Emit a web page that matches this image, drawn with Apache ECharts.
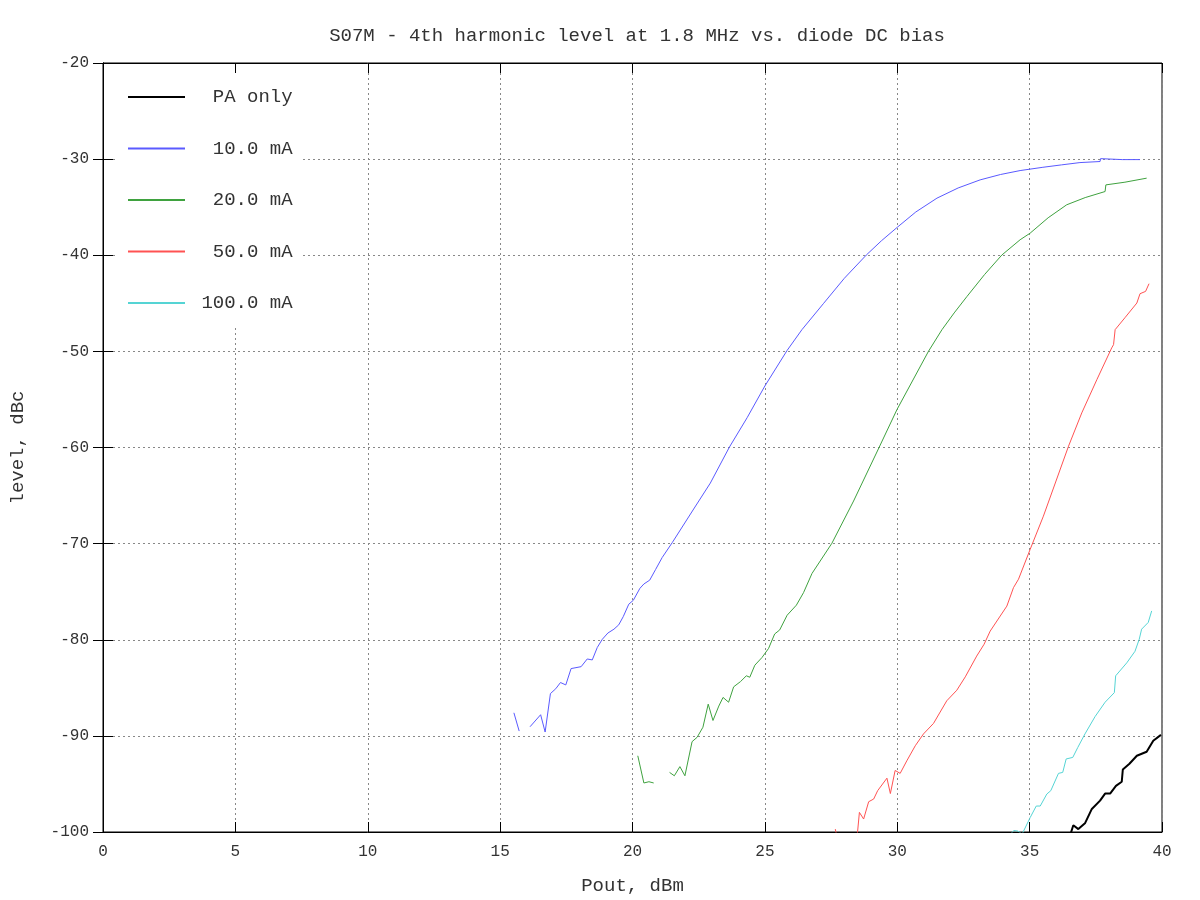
<!DOCTYPE html>
<html>
<head>
<meta charset="utf-8">
<script src="https://cdn.jsdelivr.net/npm/echarts@6/dist/echarts.min.js"></script>
<style>html,body{margin:0;padding:0;background:#fff}#c{width:1200px;height:900px}</style>
</head>
<body>
<div id="c"></div>
<script>
// ---- data ----
const seriesNames = ['PA only', '10.0 mA', '20.0 mA', '50.0 mA', '100.0 mA'];
const xTicks = [0, 5, 10, 15, 20, 25, 30, 35, 40];
const yTicks = [-100, -90, -80, -70, -60, -50, -40, -30, -20];

const paX = [36.5, 36.65, 36.84, 37.09, 37.35, 37.66, 37.85, 38.04, 38.26, 38.48, 38.52, 38.77, 39.05, 39.42, 39.67, 39.96];
const paY = [-100.6, -99.3, -99.7, -99.1, -97.6, -96.74, -96.0, -96.0, -95.2, -94.77, -93.5, -92.9, -92.07, -91.65, -90.5, -89.9];

const mA10X = [15.52, 15.72, 15.9, 16.13, 16.53, 16.7, 16.9, 17.1, 17.28, 17.48, 17.68, 18.06, 18.29, 18.48, 18.67, 18.86, 19.07, 19.3, 19.48, 19.65, 19.86, 20.03, 20.28, 20.43, 20.65, 20.87, 21.12, 21.5, 22.31, 22.94, 23.66, 24.33, 25.0, 25.84, 26.4, 27.22, 28.0, 28.83, 29.4, 30.01, 30.7, 31.5, 32.3, 33.13, 33.9, 34.64, 35.5, 36.2, 36.9, 37.66, 37.68, 38.5, 39.17];
const mA10Y = [-87.6, -89.5, null, -89.05, -87.8, -89.6, -85.6, -85.1, -84.45, -84.7, -83.0, -82.8, -82.0, -82.1, -80.8, -79.95, -79.3, -78.9, -78.45, -77.6, -76.3, -75.9, -74.65, -74.2, -73.8, -72.7, -71.45, -69.9, -66.4, -63.7, -59.96, -56.9, -53.6, -49.9, -47.74, -45.0, -42.4, -39.98, -38.5, -37.07, -35.5, -34.06, -33.0, -32.16, -31.6, -31.19, -30.85, -30.6, -30.36, -30.25, -29.95, -30.05, -30.05];

const mA20X = [20.2, 20.43, 20.62, 20.8, 21.1, 21.4, 21.58, 21.79, 21.98, 22.25, 22.44, 22.66, 22.86, 23.04, 23.26, 23.42, 23.63, 23.82, 24.08, 24.3, 24.43, 24.62, 24.89, 25.14, 25.37, 25.56, 25.84, 26.19, 26.46, 26.78, 27.53, 28.35, 29.32, 29.99, 31.18, 31.69, 32.15, 32.63, 33.3, 33.95, 34.64, 35.02, 35.7, 36.4, 37.1, 37.85, 37.88, 38.6, 39.42];
const mA20Y = [-92.07, -94.9, -94.77, -94.9, null, -93.8, -94.15, -93.2, -94.15, -90.6, -90.15, -89.1, -86.7, -88.4, -86.9, -86.0, -86.5, -84.9, -84.35, -83.75, -83.9, -82.65, -81.85, -80.9, -79.4, -78.98, -77.45, -76.4, -75.1, -73.1, -69.97, -65.57, -59.96, -56.05, -49.99, -47.74, -46.0, -44.3, -42.0, -39.98, -38.39, -37.7, -36.1, -34.75, -34.0, -33.37, -32.68, -32.4, -31.98];

const mA50X = [27.66, 27.8, 28.1, 28.45, 28.57, 28.73, 28.92, 29.11, 29.26, 29.61, 29.74, 29.92, 30.11, 30.36, 30.68, 30.99, 31.37, 31.87, 32.25, 32.57, 33.0, 33.28, 33.51, 34.14, 34.39, 34.58, 35.02, 35.52, 36.47, 36.97, 37.54, 38.1, 38.17, 38.23, 38.6, 39.05, 39.17, 39.38, 39.51];
const mA50Y = [-99.7, -101.5, -103.0, -101.5, -97.96, -98.65, -96.85, -96.57, -95.7, -94.4, -96.0, -93.6, -93.9, -92.6, -91.03, -89.8, -88.7, -86.35, -85.25, -83.86, -81.7, -80.47, -79.1, -76.5, -74.58, -73.7, -70.6, -67.14, -59.86, -56.4, -52.94, -49.64, -49.3, -47.74, -46.5, -44.97, -44.0, -43.76, -42.96];

const mA100X = [34.25, 34.4, 34.55, 34.72, 35.02, 35.25, 35.4, 35.65, 35.8, 36.09, 36.25, 36.38, 36.63, 36.82, 37.09, 37.47, 37.85, 38.2, 38.25, 38.67, 38.98, 39.14, 39.23, 39.48, 39.61];
const mA100Y = [-100.3, -99.85, -99.9, -100.2, -98.5, -97.3, -97.3, -96.05, -95.7, -93.9, -93.8, -92.4, -92.24, -91.2, -89.8, -88.0, -86.5, -85.5, -83.75, -82.4, -81.2, -79.95, -78.9, -78.2, -77.0];

// ---- chart ----
const FONT = 'Liberation Mono';
function pairs(xs, ys) { return xs.map((x, i) => [x, ys[i]]); }
const colors = ['#000000', '#5a5aff', '#3fa23f', '#ff5252', '#55d4d4'];
const widths = [2, 1, 1, 1, 1];
const allData = [pairs(paX, paY), pairs(mA10X, mA10Y), pairs(mA20X, mA20Y), pairs(mA50X, mA50Y), pairs(mA100X, mA100Y)];

const chart = echarts.init(document.getElementById('c'), null, { renderer: 'canvas' });
const axisCommon = {
  axisLine: { show: true, lineStyle: { color: '#000', width: 1 } },
  axisTick: { show: true, inside: true, length: 10, lineStyle: { color: '#000' } },
};
chart.setOption({
  animation: false,
  backgroundColor: '#fff',
  title: {
    text: 'S07M - 4th harmonic level at 1.8 MHz vs. diode DC bias',
    left: 632, textAlign: 'center', top: 21,
    textStyle: { fontFamily: FONT, fontSize: 19, fontWeight: 'normal', color: '#333' }
  },
  grid: { left: 102, right: 38, top: 63, bottom: 67, show: true, borderColor: '#000', borderWidth: 1, backgroundColor: 'transparent' },
  legend: {
    orient: 'vertical', left: 116, top: 73,
    padding: [14, 8, 12, 11],
    backgroundColor: '#fff',
    itemWidth: 57, itemHeight: 20, itemGap: 31.5,
    data: seriesNames,
    itemStyle: { opacity: 0, color: 'rgba(0,0,0,0)', borderWidth: 0 },
    formatter: n => n.padStart(9, ' '),
    textStyle: { fontFamily: FONT, fontSize: 19, lineHeight: 20, color: '#333' }
  },
  xAxis: [
    Object.assign({
      type: 'value', min: 0, max: 40, interval: 5,
      name: 'Pout, dBm', nameLocation: 'middle', nameGap: 44,
      nameTextStyle: { fontFamily: FONT, fontSize: 19, color: '#333' },
      axisLabel: { fontFamily: FONT, fontSize: 16, color: '#333', margin: 12, formatter: v => xTicks.includes(v) ? String(v) : '' },
      splitLine: { show: true, lineStyle: { type: [2, 3], color: '#888', width: 1 } }
    }, axisCommon),
    Object.assign({
      type: 'value', min: 0, max: 40, interval: 5, position: 'top',
      axisLabel: { show: false }, splitLine: { show: false }
    }, axisCommon)
  ],
  yAxis: [
    Object.assign({
      type: 'value', min: -100, max: -20, interval: 10,
      name: 'level, dBc', nameLocation: 'middle', nameGap: 76, nameRotate: 90,
      nameTextStyle: { fontFamily: FONT, fontSize: 19, color: '#333' },
      axisLabel: { fontFamily: FONT, fontSize: 16, color: '#333', margin: 14, formatter: v => yTicks.includes(v) ? String(v) : '' },
      splitLine: { show: true, lineStyle: { type: [2, 3], color: '#888', width: 1 } }
    }, axisCommon),
    Object.assign({
      type: 'value', min: -100, max: -20, interval: 10, position: 'right',
      axisLabel: { show: false }, splitLine: { show: false }
    }, axisCommon)
  ],
  series: seriesNames.map((n, i) => ({
    name: n, type: 'line', data: allData[i],
    xAxisIndex: 0, yAxisIndex: 0,
    symbol: 'none', showSymbol: false, connectNulls: false, clip: true,
    color: colors[i],
    lineStyle: { color: colors[i], width: widths[i] },
    z: 2 + i
  }))
});
</script>
</body>
</html>
